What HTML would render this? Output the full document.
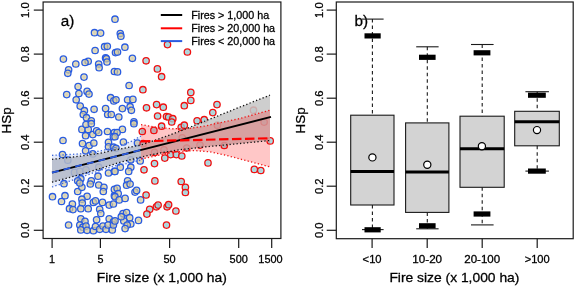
<!DOCTYPE html>
<html><head><meta charset="utf-8"><title>Figure</title><style>html,body{margin:0;padding:0;background:#fff}</style></head><body>
<svg width="575" height="286" viewBox="0 0 575 286" style="display:block;will-change:transform;font-family:'Liberation Sans',Arial,sans-serif" fill="#000">
<style>text{stroke:#000;stroke-width:0.27px}</style>
<rect width="575" height="286" fill="#fff"/>
<defs><radialGradient id="gb"><stop offset="0.15" stop-color="#c2bda6"/><stop offset="0.75" stop-color="#e6d692"/></radialGradient><radialGradient id="gr"><stop offset="0.15" stop-color="#a6c2c6"/><stop offset="0.75" stop-color="#8cdde8"/></radialGradient></defs>
<g stroke="#2a5ce0" stroke-width="1.3" fill="url(#gb)" fill-opacity="0.72">
<circle cx="94.5" cy="32.7" r="3.2"/>
<circle cx="100.6" cy="33.1" r="3.2"/>
<circle cx="115" cy="19.2" r="3.2"/>
<circle cx="95.1" cy="50.5" r="3.2"/>
<circle cx="104.6" cy="46.7" r="3.2"/>
<circle cx="107.3" cy="46.3" r="3.2"/>
<circle cx="63.4" cy="59.1" r="3.2"/>
<circle cx="115.5" cy="52.6" r="3.2"/>
<circle cx="117.5" cy="52" r="3.2"/>
<circle cx="105.6" cy="57.9" r="3.2"/>
<circle cx="106.4" cy="58.7" r="3.2"/>
<circle cx="88.2" cy="61.3" r="3.2"/>
<circle cx="85" cy="62.5" r="3.2"/>
<circle cx="75.8" cy="64" r="3.2"/>
<circle cx="98.7" cy="64" r="3.2"/>
<circle cx="99.1" cy="67.7" r="3.2"/>
<circle cx="68.6" cy="69.8" r="3.2"/>
<circle cx="67.8" cy="73.3" r="3.2"/>
<circle cx="84" cy="77.1" r="3.2"/>
<circle cx="114.4" cy="71.5" r="3.2"/>
<circle cx="78.1" cy="86.6" r="3.2"/>
<circle cx="78.9" cy="93.5" r="3.2"/>
<circle cx="66.7" cy="94.6" r="3.2"/>
<circle cx="87.1" cy="91.4" r="3.2"/>
<circle cx="89" cy="94.1" r="3.2"/>
<circle cx="76.2" cy="99.8" r="3.2"/>
<circle cx="80.2" cy="106.1" r="3.2"/>
<circle cx="94.1" cy="109.3" r="3.2"/>
<circle cx="84.4" cy="110.7" r="3.2"/>
<circle cx="83.3" cy="114.5" r="3.2"/>
<circle cx="86.5" cy="117.7" r="3.2"/>
<circle cx="91.3" cy="120.8" r="3.2"/>
<circle cx="110.6" cy="97.7" r="3.2"/>
<circle cx="113.8" cy="100.9" r="3.2"/>
<circle cx="105.6" cy="108.6" r="3.2"/>
<circle cx="107.7" cy="114.5" r="3.2"/>
<circle cx="111.3" cy="114.5" r="3.2"/>
<circle cx="107" cy="62" r="3.2"/>
<circle cx="63" cy="140.5" r="3.2"/>
<circle cx="62.5" cy="154.6" r="3.2"/>
<circle cx="81.9" cy="129.4" r="3.2"/>
<circle cx="88.2" cy="129.4" r="3.2"/>
<circle cx="86" cy="124.5" r="3.2"/>
<circle cx="91.3" cy="123.7" r="3.2"/>
<circle cx="85.6" cy="135.7" r="3.2"/>
<circle cx="92.8" cy="134.6" r="3.2"/>
<circle cx="96.6" cy="130.8" r="3.2"/>
<circle cx="98.7" cy="132.5" r="3.2"/>
<circle cx="107.5" cy="131.5" r="3.2"/>
<circle cx="114.4" cy="132.5" r="3.2"/>
<circle cx="113.4" cy="136.7" r="3.2"/>
<circle cx="82.5" cy="143.6" r="3.2"/>
<circle cx="89.2" cy="145.5" r="3.2"/>
<circle cx="93.8" cy="143" r="3.2"/>
<circle cx="85.6" cy="150.8" r="3.2"/>
<circle cx="92.8" cy="153.9" r="3.2"/>
<circle cx="108.5" cy="142.4" r="3.2"/>
<circle cx="108.5" cy="146.8" r="3.2"/>
<circle cx="113.4" cy="147.2" r="3.2"/>
<circle cx="67.8" cy="160.2" r="3.2"/>
<circle cx="74.5" cy="172.4" r="3.2"/>
<circle cx="79.8" cy="171.4" r="3.2"/>
<circle cx="86" cy="169.9" r="3.2"/>
<circle cx="98.7" cy="167.2" r="3.2"/>
<circle cx="98" cy="176.2" r="3.2"/>
<circle cx="108.5" cy="173" r="3.2"/>
<circle cx="114.4" cy="171.4" r="3.2"/>
<circle cx="80.8" cy="178.7" r="3.2"/>
<circle cx="77.7" cy="180.8" r="3.2"/>
<circle cx="91.3" cy="180.8" r="3.2"/>
<circle cx="52.5" cy="196.7" r="3.2"/>
<circle cx="64" cy="183.7" r="3.2"/>
<circle cx="65" cy="195.7" r="3.2"/>
<circle cx="61.5" cy="201.5" r="3.2"/>
<circle cx="72.4" cy="204" r="3.2"/>
<circle cx="69.5" cy="208.7" r="3.2"/>
<circle cx="73" cy="209.6" r="3.2"/>
<circle cx="68.6" cy="225" r="3.2"/>
<circle cx="77.7" cy="191.5" r="3.2"/>
<circle cx="81.9" cy="187.3" r="3.2"/>
<circle cx="79.8" cy="183" r="3.2"/>
<circle cx="90.3" cy="184" r="3.2"/>
<circle cx="98.7" cy="185" r="3.2"/>
<circle cx="103.9" cy="187.3" r="3.2"/>
<circle cx="103.3" cy="191.5" r="3.2"/>
<circle cx="114.4" cy="189.4" r="3.2"/>
<circle cx="114.4" cy="195.7" r="3.2"/>
<circle cx="87.1" cy="196.3" r="3.2"/>
<circle cx="81.9" cy="199.2" r="3.2"/>
<circle cx="82.3" cy="203" r="3.2"/>
<circle cx="93.4" cy="202.4" r="3.2"/>
<circle cx="95.5" cy="200.9" r="3.2"/>
<circle cx="102.5" cy="202.4" r="3.2"/>
<circle cx="80.8" cy="208.7" r="3.2"/>
<circle cx="88.2" cy="208.7" r="3.2"/>
<circle cx="99.7" cy="209.3" r="3.2"/>
<circle cx="100.8" cy="213.5" r="3.2"/>
<circle cx="109.2" cy="205.1" r="3.2"/>
<circle cx="113.4" cy="204" r="3.2"/>
<circle cx="80.8" cy="218.8" r="3.2"/>
<circle cx="85" cy="221.3" r="3.2"/>
<circle cx="96.6" cy="219.8" r="3.2"/>
<circle cx="109.2" cy="218.8" r="3.2"/>
<circle cx="113.4" cy="221.9" r="3.2"/>
<circle cx="79.8" cy="225" r="3.2"/>
<circle cx="82.9" cy="227.2" r="3.2"/>
<circle cx="86" cy="226.1" r="3.2"/>
<circle cx="80.8" cy="229.9" r="3.2"/>
<circle cx="87.1" cy="230.3" r="3.2"/>
<circle cx="93.4" cy="230.7" r="3.2"/>
<circle cx="95.5" cy="226.5" r="3.2"/>
<circle cx="99.7" cy="229.3" r="3.2"/>
<circle cx="102.9" cy="226.1" r="3.2"/>
<circle cx="106" cy="229.3" r="3.2"/>
<circle cx="108.1" cy="225" r="3.2"/>
<circle cx="112.3" cy="229.9" r="3.2"/>
<circle cx="113.4" cy="225" r="3.2"/>
<circle cx="120.3" cy="33.5" r="3.2"/>
<circle cx="120.9" cy="36.2" r="3.2"/>
<circle cx="124.9" cy="47.2" r="3.2"/>
<circle cx="132.4" cy="58.3" r="3.2"/>
<circle cx="117.5" cy="71.9" r="3.2"/>
<circle cx="129.1" cy="85.5" r="3.2"/>
<circle cx="116" cy="99.8" r="3.2"/>
<circle cx="127.6" cy="99.8" r="3.2"/>
<circle cx="132.9" cy="99.4" r="3.2"/>
<circle cx="122.4" cy="108.6" r="3.2"/>
<circle cx="130.1" cy="106.7" r="3.2"/>
<circle cx="131.4" cy="110.3" r="3.2"/>
<circle cx="118.8" cy="117" r="3.2"/>
<circle cx="133.9" cy="121.9" r="3.2"/>
<circle cx="133.9" cy="123.7" r="3.2"/>
<circle cx="122.4" cy="129.4" r="3.2"/>
<circle cx="117.1" cy="132.5" r="3.2"/>
<circle cx="115" cy="136.7" r="3.2"/>
<circle cx="123.4" cy="142" r="3.2"/>
<circle cx="137.5" cy="143" r="3.2"/>
<circle cx="116" cy="148.3" r="3.2"/>
<circle cx="140.2" cy="160.9" r="3.2"/>
<circle cx="130.8" cy="159.8" r="3.2"/>
<circle cx="130.8" cy="167.2" r="3.2"/>
<circle cx="128.7" cy="171.4" r="3.2"/>
<circle cx="120.3" cy="167.2" r="3.2"/>
<circle cx="115" cy="171.4" r="3.2"/>
<circle cx="127.6" cy="180.8" r="3.2"/>
<circle cx="126.6" cy="185.2" r="3.2"/>
<circle cx="130.1" cy="184.1" r="3.2"/>
<circle cx="117.1" cy="188.3" r="3.2"/>
<circle cx="118.2" cy="193.6" r="3.2"/>
<circle cx="115" cy="196.7" r="3.2"/>
<circle cx="119.2" cy="199.9" r="3.2"/>
<circle cx="125.1" cy="198.4" r="3.2"/>
<circle cx="135" cy="192.1" r="3.2"/>
<circle cx="136.6" cy="190.4" r="3.2"/>
<circle cx="140.6" cy="199.9" r="3.2"/>
<circle cx="123" cy="213.5" r="3.2"/>
<circle cx="126.6" cy="212.5" r="3.2"/>
<circle cx="129.7" cy="217.7" r="3.2"/>
<circle cx="123.8" cy="220.9" r="3.2"/>
<circle cx="115" cy="220.9" r="3.2"/>
<circle cx="130.8" cy="224" r="3.2"/>
<circle cx="127.2" cy="225.1" r="3.2"/>
<circle cx="125.1" cy="228.6" r="3.2"/>
<circle cx="138.5" cy="220.4" r="3.2"/>
<circle cx="121.3" cy="216.7" r="3.2"/>
</g>
<g stroke="#f01010" stroke-width="1.3" fill="url(#gr)" fill-opacity="0.8">
<circle cx="167.5" cy="44.6" r="3.2"/>
<circle cx="146.1" cy="60.8" r="3.2"/>
<circle cx="187.4" cy="52" r="3.2"/>
<circle cx="157.4" cy="68.9" r="3.2"/>
<circle cx="161.6" cy="76.7" r="3.2"/>
<circle cx="142.9" cy="89.7" r="3.2"/>
<circle cx="146.5" cy="107.8" r="3.2"/>
<circle cx="156.6" cy="104.6" r="3.2"/>
<circle cx="163.3" cy="107.2" r="3.2"/>
<circle cx="184.3" cy="105.7" r="3.2"/>
<circle cx="157.6" cy="116" r="3.2"/>
<circle cx="166.5" cy="116.6" r="3.2"/>
<circle cx="168.6" cy="117" r="3.2"/>
<circle cx="172.8" cy="118.7" r="3.2"/>
<circle cx="142.3" cy="131.5" r="3.2"/>
<circle cx="153.9" cy="130.4" r="3.2"/>
<circle cx="161.6" cy="126.2" r="3.2"/>
<circle cx="171.7" cy="122" r="3.2"/>
<circle cx="181.2" cy="127.3" r="3.2"/>
<circle cx="184.3" cy="125.2" r="3.2"/>
<circle cx="182.2" cy="137.8" r="3.2"/>
<circle cx="164.8" cy="158.1" r="3.2"/>
<circle cx="170.7" cy="154.6" r="3.2"/>
<circle cx="176.3" cy="154.6" r="3.2"/>
<circle cx="181.8" cy="156" r="3.2"/>
<circle cx="154.5" cy="163.6" r="3.2"/>
<circle cx="144" cy="169.8" r="3.2"/>
<circle cx="154.9" cy="180.9" r="3.2"/>
<circle cx="181.2" cy="181.5" r="3.2"/>
<circle cx="154.5" cy="152.4" r="3.2"/>
<circle cx="164" cy="149.8" r="3.2"/>
<circle cx="143.2" cy="143.7" r="3.2"/>
<circle cx="146.1" cy="195" r="3.2"/>
<circle cx="149.7" cy="209.3" r="3.2"/>
<circle cx="146.9" cy="214.1" r="3.2"/>
<circle cx="156.4" cy="206.8" r="3.2"/>
<circle cx="158.1" cy="205.1" r="3.2"/>
<circle cx="167.1" cy="206.8" r="3.2"/>
<circle cx="168.6" cy="204.7" r="3.2"/>
<circle cx="175.9" cy="211" r="3.2"/>
<circle cx="166.5" cy="225.1" r="3.2"/>
<circle cx="185.4" cy="187.3" r="3.2"/>
<circle cx="185.4" cy="192.5" r="3.2"/>
<circle cx="190.8" cy="92.4" r="3.2"/>
<circle cx="190.8" cy="100.4" r="3.2"/>
<circle cx="217" cy="104.6" r="3.2"/>
<circle cx="212.8" cy="112.6" r="3.2"/>
<circle cx="197.1" cy="120.8" r="3.2"/>
<circle cx="204.2" cy="119.7" r="3.2"/>
<circle cx="253.5" cy="110.2" r="3.2"/>
<circle cx="217.4" cy="125.2" r="3.2"/>
<circle cx="264.1" cy="122.1" r="3.2"/>
<circle cx="270.2" cy="140.9" r="3.2"/>
<circle cx="224.3" cy="145.5" r="3.2"/>
<circle cx="200" cy="145.1" r="3.2"/>
<circle cx="186.7" cy="148" r="3.2"/>
<circle cx="208" cy="162.9" r="3.2"/>
<circle cx="254.3" cy="169.4" r="3.2"/>
<circle cx="260.8" cy="170.5" r="3.2"/>
</g>
<polygon points="52,159.3 80,156.2 100,153.3 120,149 141,145 160,138.5 180,131.2 204,121.5 240,107 270,95.1 270,140.5 240,143.5 204,147 180,149.7 160,153 141,157 120,162.3 100,168.6 80,174.6 52,182.2" fill="rgba(198,198,198,0.85)" stroke="none"/>
<polygon points="141,124.6 155,127 172,128.8 190,128.3 205,126 216,123.5 238,119 270,110.2 270,166.9 240,159 225,155 210,151.8 195,150.6 185,151 170,153 155,156 141,159" fill="rgba(255,0,0,0.22)" stroke="none"/>
<polygon points="52,155.3 70,154.5 85,153.5 100,151 115,147.5 130,142 141,136 141,160 130,163 115,166 100,170.5 85,175.8 70,181 52,187" fill="rgba(65,105,225,0.13)" stroke="none"/>
<polyline points="141,124.6 155,127 172,128.8 190,128.3 205,126 216,123.5 238,119 270,110.2" fill="none" stroke="#f01818" stroke-width="1.3" stroke-dasharray="1.3 2.2"/>
<polyline points="141,159 155,156 170,153 185,151 195,150.6 210,151.8 225,155 240,159 270,166.9" fill="none" stroke="#f01818" stroke-width="1.3" stroke-dasharray="1.3 2.2"/>
<polyline points="52,155.3 70,154.5 85,153.5 100,151 115,147.5 130,142 141,136" fill="none" stroke="#3d66d8" stroke-width="1.3" stroke-dasharray="1.3 2.2"/>
<polyline points="52,187 70,181 85,175.8 100,170.5 115,166 130,163 141,160" fill="none" stroke="#3d66d8" stroke-width="1.3" stroke-dasharray="1.3 2.2"/>
<polyline points="52,159.3 80,156.2 100,153.3 120,149 141,145 160,138.5 180,131.2 204,121.5 240,107 270,95.1" fill="none" stroke="#111" stroke-width="1.3" stroke-dasharray="1.3 2.2"/>
<polyline points="52,182.2 80,174.6 100,168.6 120,162.3 141,157 160,153 180,149.7 204,147 240,143.5 270,140.5" fill="none" stroke="#111" stroke-width="1.3" stroke-dasharray="1.3 2.2"/>
<line x1="52" y1="172.6" x2="271" y2="116.9" stroke="#000" stroke-width="2"/>
<line x1="52" y1="172.6" x2="141" y2="150" stroke="#2a5ae0" stroke-width="1.8" stroke-dasharray="7 5"/>
<line x1="141" y1="141.3" x2="271" y2="138.2" stroke="#f00" stroke-width="2.2" stroke-dasharray="9.5 3.5"/>
<g stroke="#1a1a1a" stroke-width="1.2" fill="none">
<rect x="43.1" y="2" width="237.8" height="236.5"/>
<line x1="33.8" y1="230.3" x2="43.1" y2="230.3"/>
<line x1="33.8" y1="186.2" x2="43.1" y2="186.2"/>
<line x1="33.8" y1="142.2" x2="43.1" y2="142.2"/>
<line x1="33.8" y1="98.2" x2="43.1" y2="98.2"/>
<line x1="33.8" y1="54.1" x2="43.1" y2="54.1"/>
<line x1="33.8" y1="10.1" x2="43.1" y2="10.1"/>
<line x1="52.1" y1="238.5" x2="52.1" y2="248"/>
<line x1="100.4" y1="238.5" x2="100.4" y2="248"/>
<line x1="169.6" y1="238.5" x2="169.6" y2="248"/>
<line x1="238.7" y1="238.5" x2="238.7" y2="248"/>
<line x1="271.7" y1="238.5" x2="271.7" y2="248"/>
<rect x="336.3" y="2" width="236.9" height="236.7"/>
<line x1="326.7" y1="230.3" x2="336.3" y2="230.3"/>
<line x1="326.7" y1="186.2" x2="336.3" y2="186.2"/>
<line x1="326.7" y1="142.2" x2="336.3" y2="142.2"/>
<line x1="326.7" y1="98.2" x2="336.3" y2="98.2"/>
<line x1="326.7" y1="54.1" x2="336.3" y2="54.1"/>
<line x1="326.7" y1="10.1" x2="336.3" y2="10.1"/>
<line x1="372.1" y1="238.7" x2="372.1" y2="248"/>
<line x1="427.2" y1="238.7" x2="427.2" y2="248"/>
<line x1="482.2" y1="238.7" x2="482.2" y2="248"/>
<line x1="537.2" y1="238.7" x2="537.2" y2="248"/>
</g>
<text x="29.4" y="230.3" font-size="10.6" text-anchor="middle" textLength="15.6" lengthAdjust="spacingAndGlyphs" transform="rotate(-90 29.4 230.3)">0.0</text>
<text x="322.6" y="230.3" font-size="10.6" text-anchor="middle" textLength="15.6" lengthAdjust="spacingAndGlyphs" transform="rotate(-90 322.6 230.3)">0.0</text>
<text x="29.4" y="186.2" font-size="10.6" text-anchor="middle" textLength="15.6" lengthAdjust="spacingAndGlyphs" transform="rotate(-90 29.4 186.2)">0.2</text>
<text x="322.6" y="186.2" font-size="10.6" text-anchor="middle" textLength="15.6" lengthAdjust="spacingAndGlyphs" transform="rotate(-90 322.6 186.2)">0.2</text>
<text x="29.4" y="142.2" font-size="10.6" text-anchor="middle" textLength="15.6" lengthAdjust="spacingAndGlyphs" transform="rotate(-90 29.4 142.2)">0.4</text>
<text x="322.6" y="142.2" font-size="10.6" text-anchor="middle" textLength="15.6" lengthAdjust="spacingAndGlyphs" transform="rotate(-90 322.6 142.2)">0.4</text>
<text x="29.4" y="98.2" font-size="10.6" text-anchor="middle" textLength="15.6" lengthAdjust="spacingAndGlyphs" transform="rotate(-90 29.4 98.2)">0.6</text>
<text x="322.6" y="98.2" font-size="10.6" text-anchor="middle" textLength="15.6" lengthAdjust="spacingAndGlyphs" transform="rotate(-90 322.6 98.2)">0.6</text>
<text x="29.4" y="54.1" font-size="10.6" text-anchor="middle" textLength="15.6" lengthAdjust="spacingAndGlyphs" transform="rotate(-90 29.4 54.1)">0.8</text>
<text x="322.6" y="54.1" font-size="10.6" text-anchor="middle" textLength="15.6" lengthAdjust="spacingAndGlyphs" transform="rotate(-90 322.6 54.1)">0.8</text>
<text x="29.4" y="10.1" font-size="10.6" text-anchor="middle" textLength="15.6" lengthAdjust="spacingAndGlyphs" transform="rotate(-90 29.4 10.1)">1.0</text>
<text x="322.6" y="10.1" font-size="10.6" text-anchor="middle" textLength="15.6" lengthAdjust="spacingAndGlyphs" transform="rotate(-90 322.6 10.1)">1.0</text>
<text x="52.1" y="262.6" font-size="10.6" text-anchor="middle" textLength="6" lengthAdjust="spacingAndGlyphs">1</text>
<text x="100.4" y="262.6" font-size="10.6" text-anchor="middle" textLength="6" lengthAdjust="spacingAndGlyphs">5</text>
<text x="169.6" y="262.6" font-size="10.6" text-anchor="middle" textLength="12.2" lengthAdjust="spacingAndGlyphs">50</text>
<text x="238.7" y="262.6" font-size="10.6" text-anchor="middle" textLength="18.3" lengthAdjust="spacingAndGlyphs">500</text>
<text x="270.5" y="262.6" font-size="10.6" text-anchor="middle" textLength="24.3" lengthAdjust="spacingAndGlyphs">1500</text>
<text x="372.1" y="262.6" font-size="10.6" text-anchor="middle" textLength="19" lengthAdjust="spacingAndGlyphs">&lt;10</text>
<text x="427.2" y="262.6" font-size="10.6" text-anchor="middle" textLength="29.8" lengthAdjust="spacingAndGlyphs">10-20</text>
<text x="482.2" y="262.6" font-size="10.6" text-anchor="middle" textLength="35.9" lengthAdjust="spacingAndGlyphs">20-100</text>
<text x="537.2" y="262.6" font-size="10.6" text-anchor="middle" textLength="25" lengthAdjust="spacingAndGlyphs">&gt;100</text>
<text x="161.8" y="281.7" font-size="13" text-anchor="middle" textLength="130" lengthAdjust="spacingAndGlyphs">Fire size (x 1,000 ha)</text>
<text x="454.4" y="281.6" font-size="13" text-anchor="middle" textLength="130" lengthAdjust="spacingAndGlyphs">Fire size (x 1,000 ha)</text>
<text x="11.5" y="120.4" font-size="13.5" text-anchor="middle" textLength="26" lengthAdjust="spacingAndGlyphs" transform="rotate(-90 11.5 120.4)">HSp</text>
<text x="304.8" y="120.4" font-size="13.5" text-anchor="middle" textLength="26" lengthAdjust="spacingAndGlyphs" transform="rotate(-90 304.8 120.4)">HSp</text>
<text x="60.8" y="26.2" font-size="15.3">a)</text>
<text x="354.4" y="26.3" font-size="15.3">b)</text>
<line x1="160.8" y1="15" x2="182.2" y2="15" stroke="#000" stroke-width="2"/>
<line x1="160.8" y1="28.3" x2="182.2" y2="28.3" stroke="#f00" stroke-width="2"/>
<line x1="160.8" y1="41.1" x2="182.2" y2="41.1" stroke="#2a5ae0" stroke-width="2"/>
<text x="191.2" y="18.8" font-size="10.6" text-anchor="start" textLength="78" lengthAdjust="spacingAndGlyphs">Fires &gt; 1,000 ha</text>
<text x="191.2" y="31.8" font-size="10.6" text-anchor="start" textLength="83.9" lengthAdjust="spacingAndGlyphs">Fires &gt; 20,000 ha</text>
<text x="191.2" y="45" font-size="10.6" text-anchor="start" textLength="83.9" lengthAdjust="spacingAndGlyphs">Fires &lt; 20,000 ha</text>
<rect x="350.7" y="115.2" width="43.3" height="89.8" fill="#d3d3d3" stroke="#1a1a1a" stroke-width="1.1"/>
<line x1="372.4" y1="19.1" x2="372.4" y2="115.2" stroke="#1a1a1a" stroke-width="1.1" stroke-dasharray="3.5 3"/>
<line x1="372.4" y1="205" x2="372.4" y2="229.6" stroke="#1a1a1a" stroke-width="1.1" stroke-dasharray="3.5 3"/>
<line x1="362" y1="19.1" x2="383.6" y2="19.1" stroke="#1a1a1a" stroke-width="1.1"/>
<line x1="362" y1="229.6" x2="383.6" y2="229.6" stroke="#1a1a1a" stroke-width="1.1"/>
<line x1="350.7" y1="171.6" x2="394" y2="171.6" stroke="#000" stroke-width="3"/>
<rect x="364.5" y="33.3" width="16.2" height="5.2" fill="#000"/>
<rect x="364.5" y="227.2" width="16.2" height="5.2" fill="#000"/>
<circle cx="372.4" cy="157.4" r="3.6" fill="#fff" stroke="#000" stroke-width="1.2"/>
<rect x="405.6" y="122.9" width="43.3" height="89.5" fill="#d3d3d3" stroke="#1a1a1a" stroke-width="1.1"/>
<line x1="427.3" y1="46.8" x2="427.3" y2="122.9" stroke="#1a1a1a" stroke-width="1.1" stroke-dasharray="3.5 3"/>
<line x1="427.3" y1="212.4" x2="427.3" y2="228.8" stroke="#1a1a1a" stroke-width="1.1" stroke-dasharray="3.5 3"/>
<line x1="416.2" y1="46.8" x2="438.6" y2="46.8" stroke="#1a1a1a" stroke-width="1.1"/>
<line x1="416.2" y1="228.8" x2="438.6" y2="228.8" stroke="#1a1a1a" stroke-width="1.1"/>
<line x1="405.6" y1="172" x2="448.9" y2="172" stroke="#000" stroke-width="3"/>
<rect x="419" y="54.7" width="16.6" height="5.2" fill="#000"/>
<rect x="419" y="223.2" width="16.6" height="5.2" fill="#000"/>
<circle cx="427.3" cy="164.7" r="3.6" fill="#fff" stroke="#000" stroke-width="1.2"/>
<rect x="460" y="116.2" width="44.2" height="71.1" fill="#d3d3d3" stroke="#1a1a1a" stroke-width="1.1"/>
<line x1="482.2" y1="44.5" x2="482.2" y2="116.2" stroke="#1a1a1a" stroke-width="1.1" stroke-dasharray="3.5 3"/>
<line x1="482.2" y1="187.3" x2="482.2" y2="224.9" stroke="#1a1a1a" stroke-width="1.1" stroke-dasharray="3.5 3"/>
<line x1="471" y1="44.5" x2="493.6" y2="44.5" stroke="#1a1a1a" stroke-width="1.1"/>
<line x1="471" y1="224.9" x2="493.6" y2="224.9" stroke="#1a1a1a" stroke-width="1.1"/>
<line x1="460" y1="148.8" x2="504.2" y2="148.8" stroke="#000" stroke-width="3"/>
<rect x="473.6" y="50.2" width="16.8" height="5.2" fill="#000"/>
<rect x="473.6" y="211.4" width="16.8" height="5.2" fill="#000"/>
<circle cx="481.9" cy="146.2" r="3.6" fill="#fff" stroke="#000" stroke-width="1.2"/>
<rect x="514.7" y="111.3" width="44.6" height="34.5" fill="#d3d3d3" stroke="#1a1a1a" stroke-width="1.1"/>
<line x1="537.2" y1="91.7" x2="537.2" y2="111.3" stroke="#1a1a1a" stroke-width="1.1" stroke-dasharray="3.5 3"/>
<line x1="537.2" y1="145.8" x2="537.2" y2="171.1" stroke="#1a1a1a" stroke-width="1.1" stroke-dasharray="3.5 3"/>
<line x1="525.4" y1="91.7" x2="548.9" y2="91.7" stroke="#1a1a1a" stroke-width="1.1"/>
<line x1="525.4" y1="171.1" x2="548.9" y2="171.1" stroke="#1a1a1a" stroke-width="1.1"/>
<line x1="514.7" y1="121.8" x2="559.3" y2="121.8" stroke="#000" stroke-width="3"/>
<rect x="528" y="92.6" width="17.8" height="5.2" fill="#000"/>
<rect x="528" y="168.5" width="17.8" height="5.2" fill="#000"/>
<circle cx="537" cy="130.1" r="3.6" fill="#fff" stroke="#000" stroke-width="1.2"/>
</svg>
</body></html>
